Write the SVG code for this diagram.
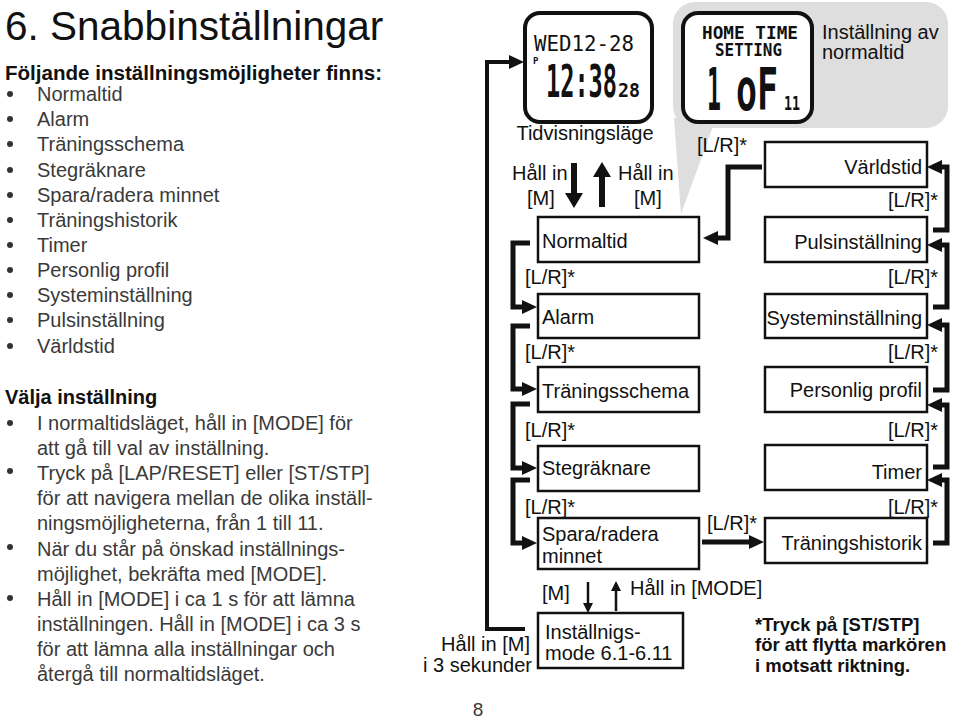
<svg xmlns="http://www.w3.org/2000/svg" width="960" height="719" viewBox="0 0 960 719">
<style>
text{font-family:"Liberation Sans",Arial,Helvetica,sans-serif;font-size:20px;fill:#111}
.l{fill:#3a3a3a}
.b{font-weight:bold}
.e{text-anchor:end}
.m{text-anchor:middle}
.box{fill:#fff;stroke:#111;stroke-width:2.5}
.lcd{fill:#fff;stroke:#111;stroke-width:4}
.c{fill:none;stroke:#111;stroke-width:5;stroke-linejoin:miter}
.c4{fill:none;stroke:#111;stroke-width:4}
.thin{fill:none;stroke:#111;stroke-width:2.5}
.seg{font-family:"DejaVu Sans Mono","Liberation Mono",monospace;font-weight:bold;fill:#111}
.segn{font-family:"DejaVu Sans Mono","Liberation Mono",monospace;fill:#111}
.dot{fill:#333}
</style>
<defs>
<marker id="ah" markerUnits="userSpaceOnUse" markerWidth="15" markerHeight="14" refX="0" refY="7" orient="auto" overflow="visible">
<path d="M0,0 L15,7 L0,14 z" fill="#111"/>
</marker>
<marker id="ahb" markerUnits="userSpaceOnUse" markerWidth="15" markerHeight="18" refX="0" refY="9" orient="auto" overflow="visible">
<path d="M0,0 L15,9 L0,18 z" fill="#111"/>
</marker>
<marker id="ahs" markerUnits="userSpaceOnUse" markerWidth="10" markerHeight="10" refX="0" refY="5" orient="auto" overflow="visible">
<path d="M0,0 L10,5 L0,10 z" fill="#111"/>
</marker>
</defs>
<rect width="960" height="719" fill="#fff"/>

<!-- Left text column -->
<g id="intro">
<text x="5" y="40" style="font-size:40.5px">6. Snabbinställningar</text>
<text x="5" y="80" class="b" textLength="377" lengthAdjust="spacingAndGlyphs">Följande inställningsmöjligheter finns:</text>
<g class="dot">
<circle cx="10" cy="94" r="3"/><circle cx="10" cy="119" r="3"/><circle cx="10" cy="144" r="3"/><circle cx="10" cy="170" r="3"/><circle cx="10" cy="195" r="3"/><circle cx="10" cy="220" r="3"/><circle cx="10" cy="245" r="3"/><circle cx="10" cy="270" r="3"/><circle cx="10" cy="295" r="3"/><circle cx="10" cy="320" r="3"/><circle cx="10" cy="346" r="3"/>
</g>
<text x="37" y="101" class="l">Normaltid</text>
<text x="37" y="126" class="l">Alarm</text>
<text x="37" y="151" class="l">Träningsschema</text>
<text x="37" y="177" class="l">Stegräknare</text>
<text x="37" y="202" class="l">Spara/radera minnet</text>
<text x="37" y="227" class="l">Träningshistorik</text>
<text x="37" y="252" class="l">Timer</text>
<text x="37" y="277" class="l">Personlig profil</text>
<text x="37" y="302" class="l">Systeminställning</text>
<text x="37" y="327" class="l">Pulsinställning</text>
<text x="37" y="353" class="l">Världstid</text>
</g>

<g id="instructions">
<text x="5" y="404" class="b">Välja inställning</text>
<g class="dot">
<circle cx="10" cy="423" r="3"/><circle cx="10" cy="471" r="3"/><circle cx="10" cy="547" r="3"/><circle cx="10" cy="598" r="3"/>
</g>
<text x="37" y="430" class="l">I normaltidsläget, håll in [MODE] för</text>
<text x="37" y="455" class="l">att gå till val av inställning.</text>
<text x="37" y="480" class="l">Tryck på [LAP/RESET] eller [ST/STP]</text>
<text x="37" y="505" class="l">för att navigera mellan de olika inställ-</text>
<text x="37" y="530" class="l">ningsmöjligheterna, från 1 till 11.</text>
<text x="37" y="556" class="l">När du står på önskad inställnings-</text>
<text x="37" y="581" class="l">möjlighet, bekräfta med [MODE].</text>
<text x="37" y="606" class="l">Håll in [MODE] i ca 1 s för att lämna</text>
<text x="37" y="631" class="l">inställningen. Håll in [MODE] i ca 3 s</text>
<text x="37" y="656" class="l">för att lämna alla inställningar och</text>
<text x="37" y="681" class="l">återgå till normaltidsläget.</text>
</g>

<text x="478" y="716" class="m l" style="font-size:19px">8</text>

<!-- Gray callout -->
<g id="callout">
<rect x="673" y="2" width="275" height="126" rx="22" fill="#dedede"/>
<polygon points="674,118 716,118 681,214" fill="#dedede"/>
<text x="822" y="39">Inställning av</text>
<text x="822" y="59">normaltid</text>
</g>

<!-- LCD time display -->
<g id="lcd-time">
<rect x="525" y="13" width="127" height="109" rx="15" class="lcd"/>
<text class="segn" style="font-size:21px"><tspan x="534" y="51" textLength="100" lengthAdjust="spacingAndGlyphs">WED12-28</tspan><tspan x="533" y="64" class="seg" style="font-size:9px">P</tspan></text>
<text class="seg" style="font-size:44px"><tspan x="546" y="97" textLength="71" lengthAdjust="spacingAndGlyphs">12:38</tspan><tspan x="618" y="97" style="font-size:19px" textLength="22" lengthAdjust="spacingAndGlyphs">28</tspan></text>
<text x="585" y="140" class="m">Tidvisningsläge</text>
</g>

<!-- LCD home time setting -->
<g id="lcd-setting">
<rect x="683" y="13" width="129" height="109" rx="15" class="lcd"/>
<text class="seg" style="font-size:17px"><tspan x="702" y="39" textLength="96" lengthAdjust="spacingAndGlyphs">HOME TIME</tspan><tspan x="715" y="56" textLength="67" lengthAdjust="spacingAndGlyphs">SETTING</tspan></text>
<text class="seg" style="font-size:58px"><tspan x="707" y="110" textLength="14" lengthAdjust="spacingAndGlyphs">1</tspan><tspan x="736" y="110" textLength="42" lengthAdjust="spacingAndGlyphs">oF</tspan><tspan x="784" y="110" style="font-size:20px" textLength="16" lengthAdjust="spacingAndGlyphs">11</tspan></text>
</g>

<!-- Left column boxes -->
<g id="normaltid"><rect x="538" y="217" width="161" height="45" class="box"/><text x="542" y="248">Normaltid</text></g>
<g id="alarm"><rect x="538" y="294" width="161" height="44" class="box"/><text x="542" y="324">Alarm</text></g>
<g id="traningsschema"><rect x="538" y="367" width="161" height="45" class="box"/><text x="542" y="398">Träningsschema</text></g>
<g id="stegraknare"><rect x="538" y="446" width="161" height="45" class="box"/><text x="542" y="475">Stegräknare</text></g>
<g id="spara"><rect x="538" y="518" width="161" height="51" class="box"/><text x="542" y="541">Spara/radera</text><text x="542" y="563">minnet</text></g>
<g id="installnigsmode"><rect x="538" y="613" width="145" height="55" class="box"/><text x="545" y="639">Inställnigs-</text><text x="545" y="660">mode 6.1-6.11</text></g>

<!-- Right column boxes -->
<g id="varldstid"><rect x="765" y="142" width="162" height="45" class="box"/><text x="922" y="174" class="e">Världstid</text></g>
<g id="pulsinstallning"><rect x="765" y="217" width="162" height="45" class="box"/><text x="922" y="249" class="e">Pulsinställning</text></g>
<g id="systeminstallning"><rect x="765" y="294" width="162" height="44" class="box"/><text x="922" y="325" class="e">Systeminställning</text></g>
<g id="personlig"><rect x="765" y="367" width="162" height="45" class="box"/><text x="922" y="397" class="e">Personlig profil</text></g>
<g id="timer"><rect x="765" y="445" width="162" height="45" class="box"/><text x="922" y="479" class="e">Timer</text></g>
<g id="traningshistorik"><rect x="765" y="518" width="162" height="45" class="box"/><text x="922" y="550" class="e">Träningshistorik</text></g>

<!-- Connectors -->
<g id="connectors">
<path class="c" d="M530,243 H513 V307 H522" marker-end="url(#ah)"/>
<path class="c" d="M530,326 H513 V389 H522" marker-end="url(#ah)"/>
<path class="c" d="M530,404 H513 V468 H522" marker-end="url(#ah)"/>
<path class="c" d="M530,480 H513 V543 H522" marker-end="url(#ah)"/>
<path class="c" d="M933,543 H947 V480 H942" marker-end="url(#ah)"/>
<path class="c" d="M933,467 H947 V405 H942" marker-end="url(#ah)"/>
<path class="c" d="M933,390 H947 V325 H942" marker-end="url(#ah)"/>
<path class="c" d="M933,307 H947 V245 H942" marker-end="url(#ah)"/>
<path class="c" d="M933,230 H947 V167 H942" marker-end="url(#ah)"/>
<path class="c" d="M762,167 H728 V238 H718" marker-end="url(#ah)"/>
<path class="c" d="M702,542 H749" marker-end="url(#ah)"/>
<path class="c4" d="M525,629 H487 V62 H509" marker-end="url(#ah)"/>
<path class="c" d="M574,163 V193" marker-end="url(#ahb)" style="stroke-width:6"/>
<path class="c" d="M602,207 V177" marker-end="url(#ahb)" style="stroke-width:6"/>
<path class="thin" d="M588,582 V603" marker-end="url(#ahs)"/>
<path class="thin" d="M616,611 V591" marker-end="url(#ahs)"/>
<text x="512" y="180">Håll in</text>
<text x="527" y="205">[M]</text>
<text x="618" y="180">Håll in</text>
<text x="634" y="205">[M]</text>
<text x="697" y="152">[L/R]*</text>
<text x="938" y="207" class="e">[L/R]*</text>
<text x="938" y="284" class="e">[L/R]*</text>
<text x="938" y="359" class="e">[L/R]*</text>
<text x="938" y="437" class="e">[L/R]*</text>
<text x="938" y="514" class="e">[L/R]*</text>
<text x="525" y="284">[L/R]*</text>
<text x="525" y="359">[L/R]*</text>
<text x="525" y="437">[L/R]*</text>
<text x="525" y="514">[L/R]*</text>
<text x="707" y="530">[L/R]*</text>
<text x="542" y="600">[M]</text>
<text x="630" y="595">Håll in [MODE]</text>
<text x="530" y="651" class="e">Håll in [M]</text>
<text x="532" y="672" class="e">i 3 sekunder</text>
</g>

<g id="footnote">
<text x="755" y="631" class="b" style="font-size:18.5px">*Tryck på [ST/STP]</text>
<text x="755" y="651" class="b" style="font-size:18.5px">för att flytta markören</text>
<text x="755" y="672" class="b" style="font-size:18.5px">i motsatt riktning.</text>
</g>
</svg>
